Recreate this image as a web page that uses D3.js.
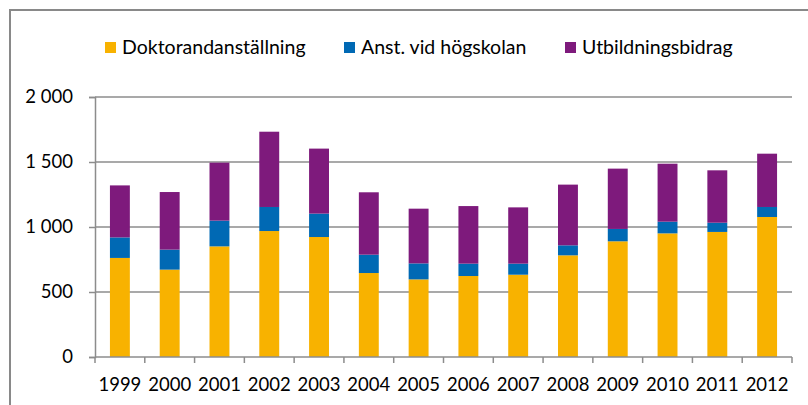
<!DOCTYPE html>
<html>
<head>
<meta charset="utf-8">
<script src="https://cdn.jsdelivr.net/npm/d3@7"></script>
<style>
  html, body { margin: 0; padding: 0; background: #fff; }
  svg { display: block; }
  text { font-family: Lato, "Noto Sans", sans-serif; fill: #000; }
</style>
</head>
<body>
<svg id="chart" width="808" height="405"></svg>
<script>
/*** DATA ***/
const years = ["1999","2000","2001","2002","2003","2004","2005","2006","2007","2008","2009","2010","2011","2012"];
const doktorand = [762, 672, 851, 969, 923, 646, 597, 623, 633, 782, 890, 951, 962, 1077];
const anstHogskolan = [158, 154, 198, 185, 180, 141, 123, 95, 85, 77, 95, 90, 71, 77];
const utbildningsbidrag = [400, 443, 446, 579, 500, 480, 421, 443, 433, 467, 464, 446, 403, 410];
const seriesNames = ["Doktorandanställning", "Anst. vid högskolan", "Utbildningsbidrag"];
const seriesColors = ["#F8B200", "#0069B4", "#7E1A7C"];
const yTicks = [0, 500, 1000, 1500, 2000];

/*** SETUP ***/
const svg = d3.select("#chart");
const plotL = 95, plotR = 792, plotT = 97, plotB = 357;

// outer frame (runs off the right and bottom edge)
svg.append("rect")
  .attr("x", 10).attr("y", 10)
  .attr("width", 900).attr("height", 500)
  .attr("fill", "none")
  .attr("stroke", "#898989")
  .attr("stroke-width", 2);

const x = d3.scaleBand()
  .domain(years)
  .range([plotL, plotR])
  .paddingInner(0.6)
  .paddingOuter(0.3);

const y = d3.scaleLinear()
  .domain([0, 2000])
  .range([plotB, plotT]);

const sv = d3.formatLocale({decimal: ",", thousands: "\u00a0", grouping: [3], currency: ["", ""]});
const fmt = sv.format(",d");

// gridlines
svg.append("g")
  .selectAll("line")
  .data(yTicks.slice(1))
  .enter()
  .append("line")
    .attr("x1", plotL).attr("x2", plotR)
    .attr("y1", d => y(d)).attr("y2", d => y(d))
    .attr("stroke", "#8c8c8c")
    .attr("stroke-width", 1.5);

/*** BARS ***/
const table = years.map((yr, i) => ({
  year: yr,
  [seriesNames[0]]: doktorand[i],
  [seriesNames[1]]: anstHogskolan[i],
  [seriesNames[2]]: utbildningsbidrag[i]
}));

const stacked = d3.stack().keys(seriesNames)(table);

svg.append("g")
  .selectAll("g")
  .data(stacked)
  .enter()
  .append("g")
    .attr("fill", (d, i) => seriesColors[i])
  .selectAll("rect")
  .data(d => d)
  .enter()
  .append("rect")
    .attr("x", d => x(d.data.year))
    .attr("y", d => y(d[1]))
    .attr("width", x.bandwidth())
    .attr("height", d => y(d[0]) - y(d[1]));

/*** AXES ***/
const yAxis = d3.axisLeft(y)
  .tickValues(yTicks)
  .tickSize(6)
  .tickPadding(16)
  .tickFormat(fmt);

const gy = svg.append("g")
  .attr("transform", `translate(${plotL},0)`)
  .call(yAxis);
gy.select(".domain").attr("stroke", "#8c8c8c").attr("stroke-width", 1.5);
gy.selectAll(".tick line").attr("stroke", "#8c8c8c").attr("stroke-width", 1.5);
gy.selectAll(".tick text")
  .attr("font-size", 18.5)
  .attr("font-family", "Lato, 'Noto Sans', sans-serif")
  .attr("fill", "#000");

// bottom axis: ticks between categories
const step = x.step();
const bounds = d3.range(years.length + 1).map(i => plotL + i * step);

const gx = svg.append("g");
gx.append("line")
  .attr("x1", plotL).attr("x2", plotR)
  .attr("y1", plotB).attr("y2", plotB)
  .attr("stroke", "#8c8c8c")
  .attr("stroke-width", 1.5);
gx.selectAll("line.tk")
  .data(bounds)
  .enter()
  .append("line")
    .attr("class", "tk")
    .attr("x1", d => d).attr("x2", d => d)
    .attr("y1", plotB).attr("y2", plotB + 6)
    .attr("stroke", "#8c8c8c")
    .attr("stroke-width", 1.5);
gx.selectAll("text")
  .data(years)
  .enter()
  .append("text")
    .attr("x", d => x(d) + x.bandwidth() / 2)
    .attr("y", 391)
    .attr("text-anchor", "middle")
    .attr("font-size", 18.5)
    .text(d => d);

/*** LEGEND ***/
const legendX = [105, 344, 565];
const legend = svg.append("g")
  .selectAll("g")
  .data(seriesNames)
  .enter()
  .append("g")
    .attr("transform", (d, i) => `translate(${legendX[i]},42)`);
legend.append("rect")
  .attr("width", 11).attr("height", 11)
  .attr("fill", (d, i) => seriesColors[i]);
legend.append("text")
  .attr("x", 17)
  .attr("y", 11.5)
  .attr("font-size", 19.5)
  .text(d => d);
</script>
</body>
</html>
